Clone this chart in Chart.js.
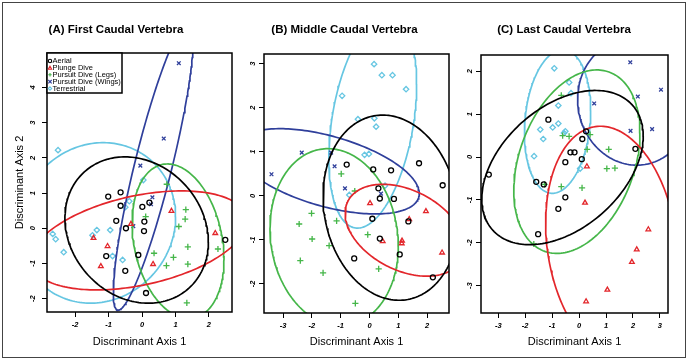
<!DOCTYPE html>
<html>
<head>
<meta charset="utf-8">
<script src="https://cdn.jsdelivr.net/npm/chart.js@4.4.0/dist/chart.umd.min.js"></script>
<style>
  body { margin: 0; background: #fff; }
  #wrap { position: relative; width: 690px; height: 362px; overflow: hidden; }
  #wrap canvas { position: absolute; top: 0; }
  #frame { position: absolute; left: 2px; top: 2px; width: 682px; height: 354px; border: 1.5px solid #444; }
</style>
</head>
<body>
<div id="wrap">
  <canvas id="c1" width="279" height="362" style="left:0px"></canvas>
  <canvas id="c2" width="233" height="362" style="left:240px"></canvas>
  <canvas id="c3" width="229" height="362" style="left:460px"></canvas>
  <div id="frame"></div>
</div>
<script>
// groups (same order in every panel)
const groupNames = ['Aerial', 'Plunge Dive', 'Pursuit Dive (Legs)', 'Pursuit Dive (Wings)', 'Terrestrial'];
const groupColors = ['#000000', '#E3262B', '#45B649', '#2F3F9B', '#66C6E2'];
const groupMarkers = ['circle', 'triangle', 'cross', 'crossRot', 'rectRot'];

// (A) first caudal vertebra  [axis1, axis2]
const firstAerial = [[-1.01,0.90],[-0.64,1.02],[-0.64,0.64],[-0.77,0.21],[-0.48,0.00],[0.01,0.61],[0.07,0.19],
  [0.06,-0.08],[0.22,0.73],[-1.07,-0.79],[-0.11,-0.76],[-0.50,-1.21],[0.12,-1.84],[2.49,-0.33]];
const firstPlunge = [[-1.45,-0.28],[-1.03,-0.51],[-1.23,-1.08],[-0.33,0.12],[0.33,-1.02],[0.88,0.49],[2.19,-0.14]];
const firstLegs = [[0.74,1.25],[0.11,0.33],[1.31,0.53],[1.29,0.26],[1.10,0.05],[0.36,-0.71],[1.37,-0.53],
  [2.27,-0.59],[0.94,-0.83],[0.73,-1.06],[1.37,-1.02],[1.34,-2.12]];
const firstWings = [[1.10,4.69],[0.65,2.55],[-0.05,1.78],[0.31,0.88],[0.27,0.68],[-0.26,0.06]];
const firstTerr = [[-2.51,2.22],[0.04,1.37],[-0.38,0.77],[-0.50,0.60],[-1.35,-0.05],[-0.95,-0.05],[-1.48,-0.20],
  [-2.67,-0.16],[-2.58,-0.31],[-2.34,-0.68],[-0.88,-0.79],[-0.58,-0.90]];

// (B) middle caudal vertebra
const middleAerial = [[-0.79,0.71],[0.13,0.60],[0.75,0.58],[1.72,0.74],[2.54,0.24],[0.31,0.17],[0.36,-0.06],
  [0.85,-0.07],[0.10,-0.52],[1.35,-0.58],[0.36,-0.97],[-0.53,-1.42],[1.05,-1.33],[2.20,-1.85]];
const middlePlunge = [[0.02,-0.17],[1.38,-0.53],[1.96,-0.35],[0.46,-1.03],[1.13,-1.02],[1.12,-1.08],[2.52,-1.29]];
const middleLegs = [[-0.98,0.50],[-0.51,0.11],[-2.01,-0.40],[-2.44,-0.64],[-1.14,-0.57],[-1.99,-0.98],[-1.40,-1.13],
  [-0.06,-0.88],[-2.40,-1.47],[-1.61,-1.75],[0.32,-1.66],[-0.49,-2.44]];
const middleWings = [[-3.40,0.49],[-2.35,0.98],[-1.33,0.98],[-1.21,0.67],[-0.85,0.17],[0.40,0.05]];
const middleTerr = [[0.16,2.99],[0.43,2.74],[0.80,2.74],[1.27,2.42],[-0.95,2.27],[-0.40,1.74],[0.17,1.76],
  [0.23,1.57],[-0.17,0.93],[-0.02,0.95],[0.54,0.23],[-0.70,0.02]];

// (C) last caudal vertebra
const lastAerial = [[-3.35,-0.41],[-1.14,0.87],[0.26,0.60],[0.12,0.42],[-0.32,0.11],[-0.17,0.11],[-0.51,-0.12],
  [0.10,-0.05],[2.09,0.19],[-1.59,-0.58],[-1.31,-0.64],[-0.51,-0.94],[-0.77,-1.21],[-1.52,-1.80]];
const lastPlunge = [[0.29,-0.22],[0.22,-1.07],[2.57,-1.69],[2.14,-2.16],[1.96,-2.45],[1.05,-3.10],[0.26,-3.37]];
const lastLegs = [[-0.66,1.44],[-0.61,0.50],[-0.37,0.48],[0.41,0.52],[0.30,0.18],[1.10,0.18],[1.03,-0.27],
  [1.33,-0.26],[-0.66,-0.69],[0.11,-0.72],[-1.28,-0.64],[-1.68,-2.03]];
const lastWings = [[1.90,2.21],[3.04,1.57],[2.18,1.41],[0.56,1.25],[1.91,0.61],[2.71,0.65]];
const lastTerr = [[-0.92,2.07],[-0.37,1.74],[-0.30,1.49],[-0.77,1.20],[-1.44,0.64],[-0.98,0.69],[-0.77,0.78],
  [-0.51,0.60],[-0.56,0.56],[-1.33,0.42],[-1.67,0.02],[0.04,-0.27]];

// axis limits [min, max]
const firstX = [-2.84, 2.69], firstY = [-2.38, 4.98];
const middleX = [-3.66, 2.76], middleY = [-2.66, 3.22];
const lastX = [-3.64, 3.30], lastY = [-3.64, 2.38];

Chart.defaults.font.family = '"Liberation Sans", Arial, sans-serif';
Chart.defaults.color = '#000';

// 95% normal data ellipse from the group's own points
function ellipse(pts) {
  const n = pts.length;
  const mx = pts.reduce((s, p) => s + p[0], 0) / n;
  const my = pts.reduce((s, p) => s + p[1], 0) / n;
  let sxx = 0, syy = 0, sxy = 0;
  pts.forEach(p => {
    sxx += (p[0] - mx) ** 2; syy += (p[1] - my) ** 2; sxy += (p[0] - mx) * (p[1] - my);
  });
  sxx /= n - 1; syy /= n - 1; sxy /= n - 1;
  const k = Math.sqrt(5.991);
  const l11 = Math.sqrt(sxx), l21 = sxy / l11, l22 = Math.sqrt(syy - l21 * l21);
  const out = [];
  for (let i = 0; i <= 200; i++) {
    const t = i / 200 * 2 * Math.PI;
    out.push({x: mx + k * l11 * Math.cos(t), y: my + k * (l21 * Math.cos(t) + l22 * Math.sin(t))});
  }
  return out;
}

const boxPlugin = {
  id: 'box',
  afterDatasetsDraw(chart) {
    const {ctx, chartArea: a} = chart;
    ctx.save();
    ctx.strokeStyle = '#000';
    ctx.lineWidth = 1.5;
    ctx.strokeRect(a.left, a.top, a.right - a.left, a.bottom - a.top);
    ctx.restore();
  }
};

function drawMarker(ctx, kind, x, y, r) {
  ctx.beginPath();
  if (kind === 'circle') ctx.arc(x, y, r, 0, 2 * Math.PI);
  else if (kind === 'triangle') { ctx.moveTo(x, y - r); ctx.lineTo(x + r, y + r * 0.8); ctx.lineTo(x - r, y + r * 0.8); ctx.closePath(); }
  else if (kind === 'cross') { ctx.moveTo(x - r, y); ctx.lineTo(x + r, y); ctx.moveTo(x, y - r); ctx.lineTo(x, y + r); }
  else if (kind === 'crossRot') { ctx.moveTo(x - r, y - r); ctx.lineTo(x + r, y + r); ctx.moveTo(x - r, y + r); ctx.lineTo(x + r, y - r); }
  else { ctx.moveTo(x, y - r); ctx.lineTo(x + r, y); ctx.lineTo(x, y + r); ctx.lineTo(x - r, y); ctx.closePath(); }
  ctx.stroke();
}

const legendPlugin = {
  id: 'insideLegend',
  afterDraw(chart) {
    const {ctx, chartArea: a} = chart;
    ctx.save();
    ctx.fillStyle = '#fff';
    ctx.fillRect(a.left, a.top, 75, 40);
    ctx.strokeStyle = '#000';
    ctx.lineWidth = 1.5;
    ctx.strokeRect(a.left, a.top, 75, 40);
    ctx.font = '7.5px "Liberation Sans", Arial, sans-serif';
    ctx.textBaseline = 'middle';
    groupNames.forEach((name, i) => {
      const y = a.top + 8 + i * 6.9;
      ctx.strokeStyle = groupColors[i];
      ctx.lineWidth = 1.1;
      drawMarker(ctx, groupMarkers[i], a.left + 3, y, 1.7);
      ctx.fillStyle = '#000';
      ctx.fillText(name, a.left + 5.5, y);
    });
    ctx.restore();
  }
};

function makePanel(id, title, groups, xr, yr, lay) {
  const datasets = [];
  groups.forEach((pts, i) => {
    datasets.push({
      label: groupNames[i],
      data: pts.map(p => ({x: p[0], y: p[1]})),
      pointStyle: groupMarkers[i],
      pointRadius: [2.5, 2.7, 3.1, 2.6, 2.7][i],
      borderColor: groupColors[i],
      backgroundColor: 'rgba(0,0,0,0)',
      borderWidth: 1.3
    });
    datasets.push({
      label: groupNames[i] + ' ellipse',
      data: ellipse(pts),
      showLine: true,
      pointRadius: 0,
      borderColor: groupColors[i],
      borderWidth: 1.7,
      fill: false,
      clip: 0
    });
  });
  const tickFont = {size: 7.5, style: 'italic', weight: 'bold'};
  return new Chart(document.getElementById(id), {
    type: 'scatter',
    data: {datasets},
    options: {
      responsive: false,
      animation: false,
      events: [],
      layout: {padding: {left: 0, right: lay.right, top: 0, bottom: 0}},
      plugins: {
        legend: {display: false},
        tooltip: {enabled: false},
        title: {
          display: true, text: title, color: '#000',
          font: {size: 11.5, weight: 'bold'},
          padding: {top: 23, bottom: lay.top - 23 - 13.8}
        }
      },
      scales: {
        x: {
          type: 'linear', min: xr[0], max: xr[1],
          ticks: {stepSize: 1, includeBounds: false, font: tickFont, color: '#000', padding: 3.5, maxRotation: 0},
          grid: {drawOnChartArea: false, drawTicks: true, tickLength: 5, color: '#000'},
          border: {display: false},
          title: {display: true, text: 'Discriminant Axis 1', color: '#000', font: {size: 11}, padding: {top: 0, bottom: 13.4}},
          afterFit: s => { s.height = 362 - lay.bottom; }
        },
        y: {
          type: 'linear', min: yr[0], max: yr[1],
          ticks: {stepSize: 1, includeBounds: false, font: tickFont, color: '#000', padding: lay.tickPad,
            minRotation: 90, maxRotation: 90, crossAlign: 'center'},
          grid: {drawOnChartArea: false, drawTicks: true, tickLength: 5, color: '#000'},
          border: {display: false},
          title: {display: !!lay.yTitle, text: 'Discriminant Axis 2', color: '#000', font: {size: 11}, padding: {top: 13.4, bottom: 0}},
          afterFit: s => { s.width = lay.yWidth; }
        }
      }
    },
    plugins: lay.legend ? [boxPlugin, legendPlugin] : [boxPlugin]
  });
}

makePanel('c1', '(A) First Caudal Vertebra',
  [firstAerial, firstPlunge, firstLegs, firstWings, firstTerr], firstX, firstY,
  {yWidth: 47, right: 47, top: 53, bottom: 312, tickPad: 5.5, yTitle: true, legend: true});
makePanel('c2', '(B) Middle Caudal Vertebra',
  [middleAerial, middlePlunge, middleLegs, middleWings, middleTerr], middleX, middleY,
  {yWidth: 24, right: 24, top: 54, bottom: 313, tickPad: 2.5});
makePanel('c3', '(C) Last Caudal Vertebra',
  [lastAerial, lastPlunge, lastLegs, lastWings, lastTerr], lastX, lastY,
  {yWidth: 21, right: 21, top: 55, bottom: 313, tickPad: 2.8});
</script>
</body>
</html>
